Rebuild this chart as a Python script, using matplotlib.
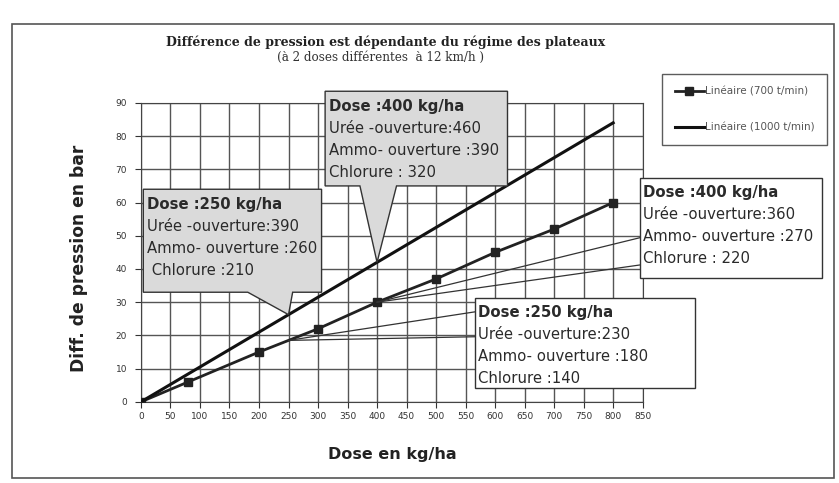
import matplotlib.pyplot as plt
from matplotlib.patches import Polygon, Rectangle
from matplotlib.transforms import offset_copy
import numpy as np

# mesures relevées : dose (kg/ha) -> différence de pression (bar)
dose_700 = [0, 80, 200, 300, 400, 500, 600, 700, 800]
pression_700 = [0, 6, 15, 22, 30, 37, 45, 52, 60]
dose_1000 = [0, 800]
pression_1000 = [0, 84]

x_ticks = list(range(0, 851, 50))
y_ticks = list(range(0, 91, 10))

titre = "Différence de pression est dépendante du régime des plateaux"
sous_titre = "(à 2 doses différentes  à 12 km/h )"

# textes des bulles
bulle_250_1000 = ["Dose :250 kg/ha", "Urée -ouverture:390", "Ammo- ouverture :260", " Chlorure :210"]
bulle_400_1000 = ["Dose :400 kg/ha", "Urée -ouverture:460", "Ammo- ouverture :390", "Chlorure : 320"]
bulle_400_700 = ["Dose :400 kg/ha", "Urée -ouverture:360", "Ammo- ouverture :270", "Chlorure : 220"]
bulle_250_700 = ["Dose :250 kg/ha", "Urée -ouverture:230", "Ammo- ouverture :180", "Chlorure :140"]

plt.rcParams['font.family'] = ['DejaVu Sans']

fig = plt.figure(figsize=(8.39, 4.83), dpi=100)
ax = fig.add_axes([0.168, 0.168, 0.598, 0.619])

ax.set_xlim(0, 850)
ax.set_ylim(0, 90)
ax.set_xticks(x_ticks)
ax.set_yticks(y_ticks)
ax.grid(True, color='#555555', linewidth=1.0)
ax.set_axisbelow(True)
for s in ax.spines.values():
    s.set_color('#444444')
ax.tick_params(labelsize=6.5, colors='#333333', length=4)
ax.tick_params(axis='x', pad=3)
ax.tick_params(axis='y', pad=6)

l700, = ax.plot(dose_700, pression_700, color='#222222', lw=2, marker='s',
                markersize=6, label='Linéaire (700 t/min)', zorder=3)
l1000, = ax.plot(dose_1000, pression_1000, color='#111111', lw=2.2,
                 label='Linéaire (1000 t/min)', zorder=3)


def texte_bulle(x0, y1, lignes, dx):
    # une ligne par appel, 22 px d'interligne
    for i, ligne in enumerate(lignes):
        tr = offset_copy(ax.transData, fig=fig, x=dx * 0.72,
                         y=-(15 + 22 * i) * 0.72, units='points')
        ax.text(x0, y1, ligne, transform=tr, fontsize=10.7, color='#2a2a2a',
                va='center', ha='left', zorder=6, clip_on=False,
                fontweight='bold' if i == 0 else 'normal')


def bulle_grise(x0, x1, y0, y1, b0, b1, tip, lignes):
    # boîte grisée avec pointe sur le bord inférieur
    pts = [(x0, y1), (x1, y1), (x1, y0), (b1, y0), tip, (b0, y0), (x0, y0)]
    ax.add_patch(Polygon(pts, closed=True, facecolor='#dadada', edgecolor='#333333',
                         lw=1.0, zorder=5, clip_on=False))
    texte_bulle(x0, y1, lignes, 4)


def bulle_blanche(x0, x1, y0, y1, w0, w1, tip, lignes):
    # boîte blanche avec pointe sur le bord gauche (pointe non remplie)
    ax.add_patch(Rectangle((x0, y0), x1 - x0, y1 - y0, facecolor='white',
                           edgecolor='#333333', lw=1.0, zorder=5, clip_on=False))
    for w in (w0, w1):
        ax.plot([tip[0], x0], [tip[1], w], color='#333333', lw=0.9, zorder=4,
                clip_on=False)
    texte_bulle(x0, y1, lignes, 3)


tip_a = (250, np.interp(250, dose_1000, pression_1000))
tip_b = (400, np.interp(400, dose_1000, pression_1000))
tip_c = (400, np.interp(400, dose_700, pression_700))
tip_d = (250, np.interp(250, dose_700, pression_700))

bulle_grise(4, 306, 33, 64, 181, 257, tip_a, bulle_250_1000)
bulle_grise(312, 621, 65, 93.5, 371, 433, tip_b, bulle_400_1000)
bulle_blanche(845, 1153, 37.3, 67.4, 49.4, 41.2, tip_c, bulle_400_700)
bulle_blanche(566, 938, 4.2, 31.3, 27.1, 19.6, tip_d, bulle_250_700)

ax.set_xlabel("Dose en kg/ha", fontsize=11.5, fontweight='bold', color='#222222')
ax.xaxis.set_label_coords(0.5, -0.15)
ax.set_ylabel("Diff. de pression en bar", fontsize=12.3, fontweight='bold', color='#222222')
ax.yaxis.set_label_coords(-0.105, 0.48)

fig.text(0.46, 0.913, titre, ha='center', va='center', fontsize=9,
         fontweight='bold', family='DejaVu Serif', color='#222222')
fig.text(0.453, 0.882, sous_titre, ha='center', va='center', fontsize=8.6,
         family='DejaVu Serif', color='#333333')

leg = fig.legend(handles=[l700, l1000], loc='upper left',
                 bbox_to_anchor=(662 / 839, 1 - 74 / 483), fontsize=7.5,
                 frameon=True, fancybox=False, edgecolor='#333333',
                 handlelength=2.8, handletextpad=0.1, labelspacing=2.5,
                 borderpad=1.2, borderaxespad=0)
for t in leg.get_texts():
    t.set_color('#555555')
leg.get_frame().set_linewidth(1.0)

# cadre extérieur
fig.patches.append(Rectangle((12 / 839, 5 / 483), 822 / 839, 454 / 483,
                             transform=fig.transFigure, fill=False,
                             edgecolor='#555555', lw=1.2))

fig.savefig('out.png', dpi=100)
